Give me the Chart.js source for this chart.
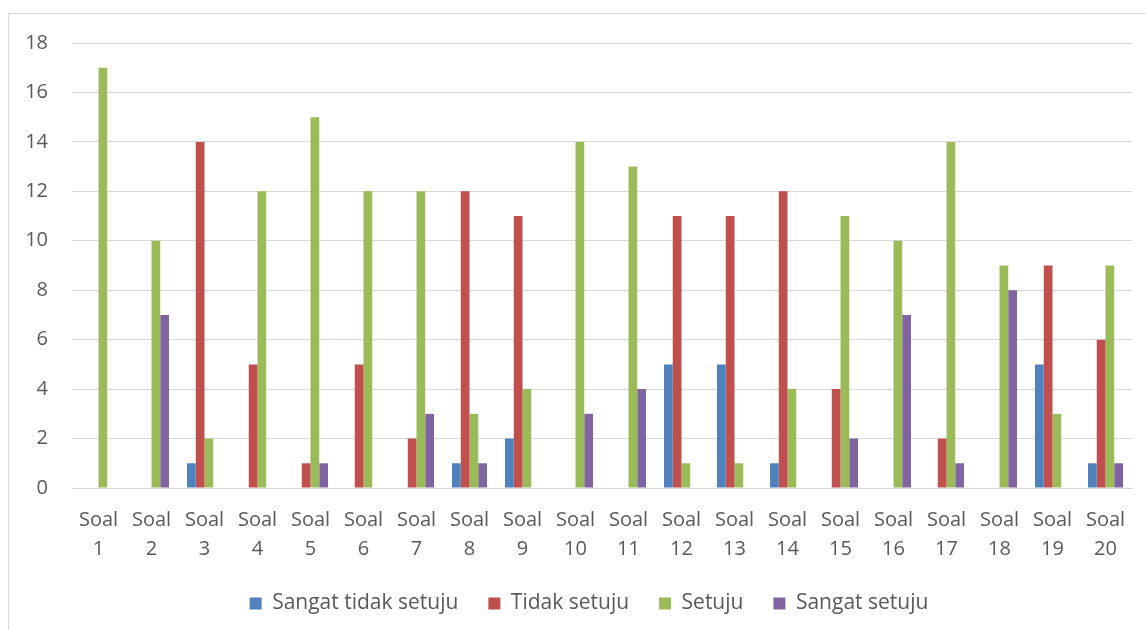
<!DOCTYPE html>
<html>
<head>
<meta charset="utf-8">
<script src="https://cdn.jsdelivr.net/npm/chart.js@4/dist/chart.umd.min.js"></script>
<style>
  html, body { margin: 0; padding: 0; background: #fff; }
  #wrap { position: relative; width: 1146px; height: 630px; overflow: hidden; }
  #frame { position: absolute; left: 8px; top: 13px; width: 1160px; height: 640px; border: 1px solid #d9d9d9; box-sizing: border-box; }
  canvas { position: absolute; left: 0; top: 0; }
</style>
</head>
<body>
<div id="wrap">
  <div id="frame"></div>
  <canvas id="c" width="1146" height="630"></canvas>
</div>
<script>
const categories = ["Soal 1","Soal 2","Soal 3","Soal 4","Soal 5","Soal 6","Soal 7","Soal 8","Soal 9","Soal 10",
                    "Soal 11","Soal 12","Soal 13","Soal 14","Soal 15","Soal 16","Soal 17","Soal 18","Soal 19","Soal 20"];
const sangatTidakSetuju = [0,0,1,0,0,0,0,1,2,0,0,5,5,1,0,0,0,0,5,1];
const tidakSetuju       = [0,0,14,5,1,5,2,12,11,0,0,11,11,12,4,0,2,0,9,6];
const setuju            = [17,10,2,12,15,12,12,3,4,14,13,1,1,4,11,10,14,9,3,9];
const sangatSetuju      = [0,7,0,0,1,0,3,1,0,3,4,0,0,0,2,7,1,8,0,1];
const yTicks = [0,2,4,6,8,10,12,14,16,18];

const FONT = "'Open Sans', sans-serif";
const TEXT = "#595959";

// nudges the legend row a little to the right of the canvas centre
const legendOffset = {
  id: "legendOffset",
  afterLayout(chart) {
    const lg = chart.legend;
    if (lg) { lg.left += 13; lg.right += 13; }
  }
};

new Chart(document.getElementById("c"), {
  type: "bar",
  data: {
    labels: categories.map(s => s.split(" ")),
    datasets: [
      { label: "Sangat tidak setuju", data: sangatTidakSetuju, backgroundColor: "#4F81BD" },
      { label: "Tidak setuju",        data: tidakSetuju,       backgroundColor: "#C0504D" },
      { label: "Setuju",              data: setuju,            backgroundColor: "#9BBB59" },
      { label: "Sangat setuju",       data: sangatSetuju,      backgroundColor: "#8064A2" }
    ]
  },
  plugins: [legendOffset],
  options: {
    responsive: false,
    animation: false,
    categoryPercentage: 0.66,
    barPercentage: 1.0,
    layout: { padding: { left: 20, right: 14, top: 43, bottom: 6 } },
    plugins: {
      tooltip: { enabled: false },
      legend: {
        position: "bottom",
        labels: {
          font: { family: FONT, size: 21 },
          color: TEXT,
          boxWidth: 12,
          boxHeight: 12,
          padding: 30
        }
      }
    },
    scales: {
      x: {
        afterFit: (axis) => { axis.height = 75; },
        grid: { display: false, drawTicks: false },
        border: { display: true, color: "#d9d9d9" },
        ticks: {
          font: { family: FONT, size: 20, lineHeight: 1.45 },
          color: TEXT,
          maxRotation: 0,
          autoSkip: false,
          padding: 18
        }
      },
      y: {
        min: 0,
        max: 18,
        afterBuildTicks: (axis) => { axis.ticks = yTicks.map(v => ({ value: v })); },
        afterFit: (axis) => { axis.width = 52; },
        grid: { color: "#d9d9d9", drawTicks: false, lineWidth: 1 },
        border: { display: false },
        ticks: {
          font: { family: FONT, size: 20 },
          color: TEXT,
          padding: 24
        }
      }
    }
  }
});
</script>
</body>
</html>
